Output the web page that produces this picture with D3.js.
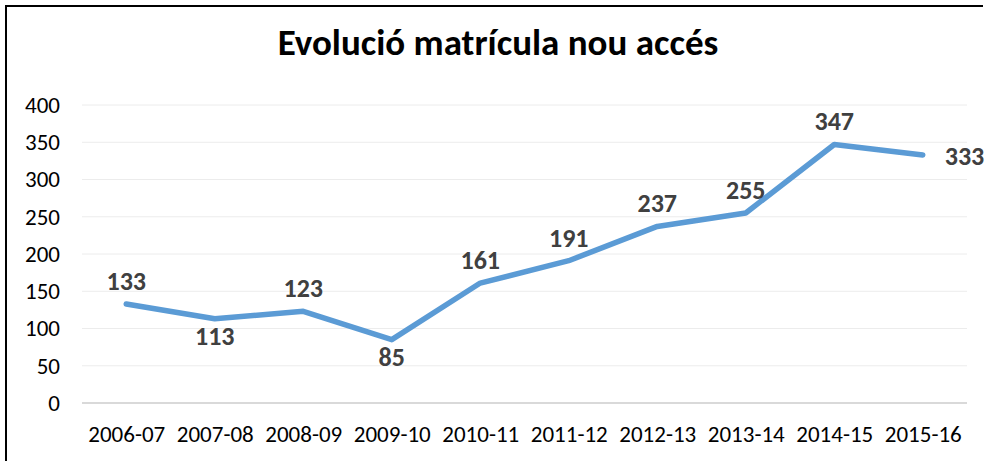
<!DOCTYPE html>
<html lang="ca">
<head>
<meta charset="UTF-8">
<title>chart</title>
<script src="https://d3js.org/d3.v7.min.js"></script>
<style>
  body { margin: 0; background: #fff; }
  svg { display: block; font-family: Calibri, Carlito, "Open Sans", sans-serif; }
</style>
</head>
<body>
<svg width="985" height="461"></svg>
<script>
const categories = ["2006-07", "2007-08", "2008-09", "2009-10", "2010-11", "2011-12", "2012-13", "2013-14", "2014-15", "2015-16"];
const values = [133, 113, 123, 85, 161, 191, 237, 255, 347, 333];
const labelPos = ["up", "down", "up", "down", "up", "up", "up", "up", "up", "right"];
const yTicks = [0, 50, 100, 150, 200, 250, 300, 350, 400];

const margin = {top: 105, right: 18, bottom: 58, left: 82};
const width = 985, height = 461;

const svg = d3.select("svg");

// frame of the chart area
svg.append("path")
  .attr("d", "M6,461 V6 H983")
  .attr("fill", "none")
  .attr("stroke", "#000")
  .attr("stroke-width", 2);

svg.append("text")
  .attr("x", 498)
  .attr("y", 55)
  .attr("text-anchor", "middle")
  .attr("font-size", 37)
  .attr("font-weight", "bold")
  .attr("fill", "#000")
  .text("Evolució matrícula nou accés");

const x = d3.scalePoint()
  .domain(categories)
  .range([margin.left, width - margin.right])
  .padding(0.5);

const y = d3.scaleLinear()
  .domain([0, 400])
  .range([height - margin.bottom, margin.top]);

// grid
svg.append("g")
  .selectAll("line")
  .data(yTicks.filter(d => d > 0))
  .join("line")
  .attr("x1", margin.left)
  .attr("x2", width - margin.right)
  .attr("y1", d => y(d))
  .attr("y2", d => y(d))
  .attr("stroke", "#ececec")
  .attr("stroke-width", 1);

// y axis labels
const yAxis = svg.append("g")
  .attr("transform", "translate(60,0)")
  .call(d3.axisLeft(y).tickValues(yTicks).tickSize(0).tickPadding(0))
  .attr("font-family", null)
  .attr("font-size", 23);
yAxis.select(".domain").remove();
yAxis.selectAll("text").attr("fill", "#000");

// x axis
const xAxis = svg.append("g")
  .attr("transform", "translate(0," + y(0) + ")")
  .call(d3.axisBottom(x).tickSize(0).tickPadding(23))
  .attr("font-family", null)
  .attr("font-size", 23);
xAxis.select(".domain")
  .attr("d", "M" + margin.left + ",0H" + (width - margin.right))
  .attr("stroke", "#d9d9d9")
  .attr("stroke-width", 2);
xAxis.selectAll("text").attr("fill", "#000");

// line
const line = d3.line()
  .x((d, i) => x(categories[i]))
  .y(d => y(d));

svg.append("path")
  .datum(values)
  .attr("d", line)
  .attr("fill", "none")
  .attr("stroke", "#5b9bd5")
  .attr("stroke-width", 5.5)
  .attr("stroke-linejoin", "round")
  .attr("stroke-linecap", "round");

// data labels
svg.append("g")
  .selectAll("text")
  .data(values)
  .join("text")
  .attr("x", (d, i) => labelPos[i] === "right" ? x(categories[i]) + 22 : x(categories[i]))
  .attr("y", (d, i) => labelPos[i] === "up" ? y(d) - 14 : labelPos[i] === "down" ? y(d) + 26 : y(d) + 10)
  .attr("text-anchor", (d, i) => labelPos[i] === "right" ? "start" : "middle")
  .attr("font-size", 26)
  .attr("font-weight", "bold")
  .attr("fill", "#404040")
  .text(d => d);
</script>
</body>
</html>
